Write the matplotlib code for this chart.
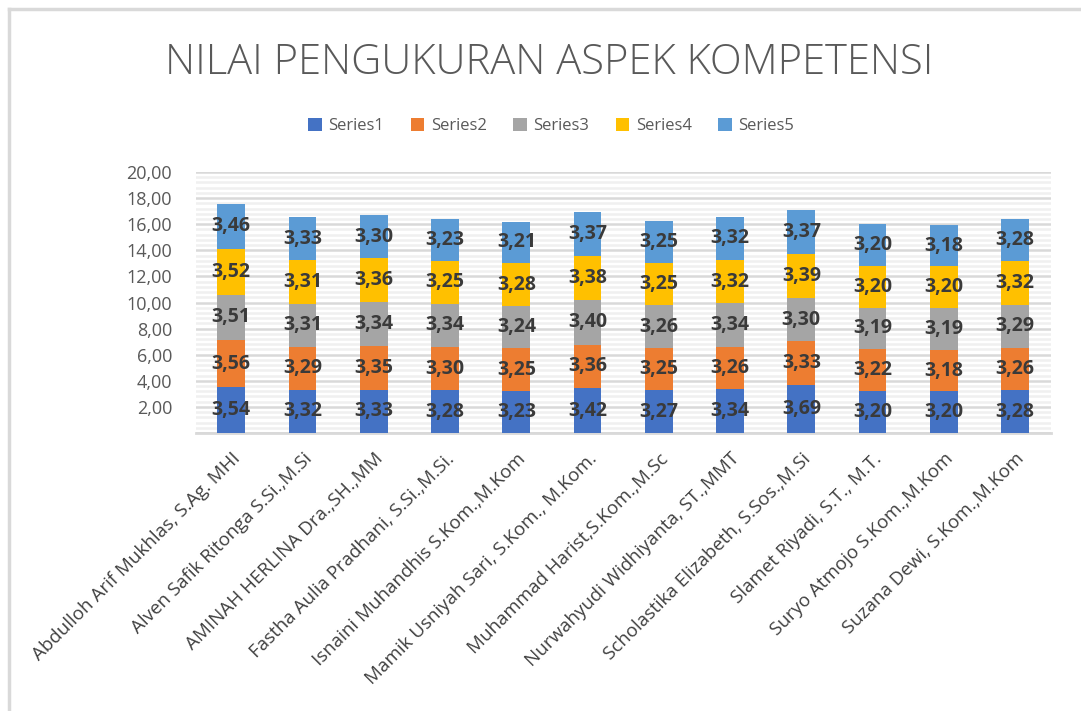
import matplotlib
matplotlib.use('Agg')
from matplotlib import pyplot as plt
from matplotlib.lines import Line2D
from matplotlib.ticker import MultipleLocator, FuncFormatter
import numpy as np

names = [
    'Abdulloh Arif Mukhlas, S.Ag. MHI',
    'Alven Safik Ritonga S.Si.,M.Si',
    'AMINAH HERLINA Dra.,SH.,MM',
    'Fastha Aulia Pradhani, S.Si.,M.Si.',
    'Isnaini Muhandhis S.Kom.,M.Kom',
    'Mamik Usniyah Sari, S.Kom., M.Kom.',
    'Muhammad Harist,S.Kom.,M.Sc',
    'Nurwahyudi Widhiyanta, ST.,MMT',
    'Scholastika Elizabeth, S.Sos.,M.Si',
    'Slamet Riyadi, S.T., M.T.',
    'Suryo Atmojo S.Kom.,M.Kom',
    'Suzana Dewi, S.Kom.,M.Kom',
]
series1 = [3.54, 3.32, 3.33, 3.28, 3.23, 3.42, 3.27, 3.34, 3.69, 3.20, 3.20, 3.28]
series2 = [3.56, 3.29, 3.35, 3.30, 3.25, 3.36, 3.25, 3.26, 3.33, 3.22, 3.18, 3.26]
series3 = [3.51, 3.31, 3.34, 3.34, 3.24, 3.40, 3.26, 3.34, 3.30, 3.19, 3.19, 3.29]
series4 = [3.52, 3.31, 3.36, 3.25, 3.28, 3.38, 3.25, 3.32, 3.39, 3.20, 3.20, 3.32]
series5 = [3.46, 3.33, 3.30, 3.23, 3.21, 3.37, 3.25, 3.32, 3.37, 3.20, 3.18, 3.28]
series_names = ['Series1', 'Series2', 'Series3', 'Series4', 'Series5']
colors = ['#4472C4', '#ED7D31', '#A5A5A5', '#FFC000', '#5B9BD5']

plt.rcParams['font.family'] = ['Open Sans', 'DejaVu Sans']

fig = plt.figure(figsize=(10.81, 7.11), dpi=100)
ax = fig.add_axes([0.181, 0.391, 0.791, 0.367])

x = np.arange(len(names))
bottom = np.zeros(len(names))
for vals, lab, col in zip([series1, series2, series3, series4, series5], series_names, colors):
    vals = np.array(vals)
    bars = ax.bar(x, vals, 0.39, bottom=bottom, color=col, label=lab, zorder=3)
    for b, v in zip(bars, vals):
        ax.text(b.get_x() + b.get_width() / 2, b.get_y() + v / 2,
                ('%.2f' % v).replace('.', ','), ha='center', va='center',
                fontsize=14, fontweight='bold', color='#3a3a3a', zorder=4)
    bottom += vals

ax.set_xlim(-0.5, len(names) - 0.5)
ax.set_ylim(0, 20)
ax.yaxis.set_major_locator(MultipleLocator(2))
ax.yaxis.set_minor_locator(MultipleLocator(0.4))
ax.yaxis.set_major_formatter(FuncFormatter(lambda v, p: '' if v == 0 else ('%.2f' % v).replace('.', ',')))
ax.grid(which='major', axis='y', color='#d9d9d9', linewidth=1.8, zorder=1)
ax.grid(which='minor', axis='y', color='#f0f0f0', linewidth=1.8, zorder=0)
ax.tick_params(axis='y', which='both', length=0, labelsize=13, labelcolor='#595959', pad=17)
ax.tick_params(axis='x', length=0, pad=12)
for s in ['top', 'right', 'left']:
    ax.spines[s].set_visible(False)
ax.spines['bottom'].set_color('#d9d9d9')
ax.spines['bottom'].set_linewidth(2)

ax.set_xticks(x)
ax.set_xticklabels(names, rotation=45, ha='right', rotation_mode='anchor',
                   fontsize=13.5, color='#404040')

fig.text(0.508, 0.912, 'NILAI PENGUKURAN ASPEK KOMPETENSI', ha='center', va='center',
         fontsize=30, color='#595959', fontweight='light')
fig.legend(loc='center', bbox_to_anchor=(0.51, 0.823), ncol=5, frameon=False,
           fontsize=12, labelcolor='#595959', handlelength=0.8, handleheight=0.8,
           handletextpad=0.4, columnspacing=1.6)

# border of the chart box
fig.add_artist(Line2D([0.0085, 0.0085], [0, 0.988], color='#d9d9d9', linewidth=2.5, transform=fig.transFigure))
fig.add_artist(Line2D([0.0085, 1.0], [0.988, 0.988], color='#d9d9d9', linewidth=2.5, transform=fig.transFigure))

fig.savefig('out.png', dpi=100)
